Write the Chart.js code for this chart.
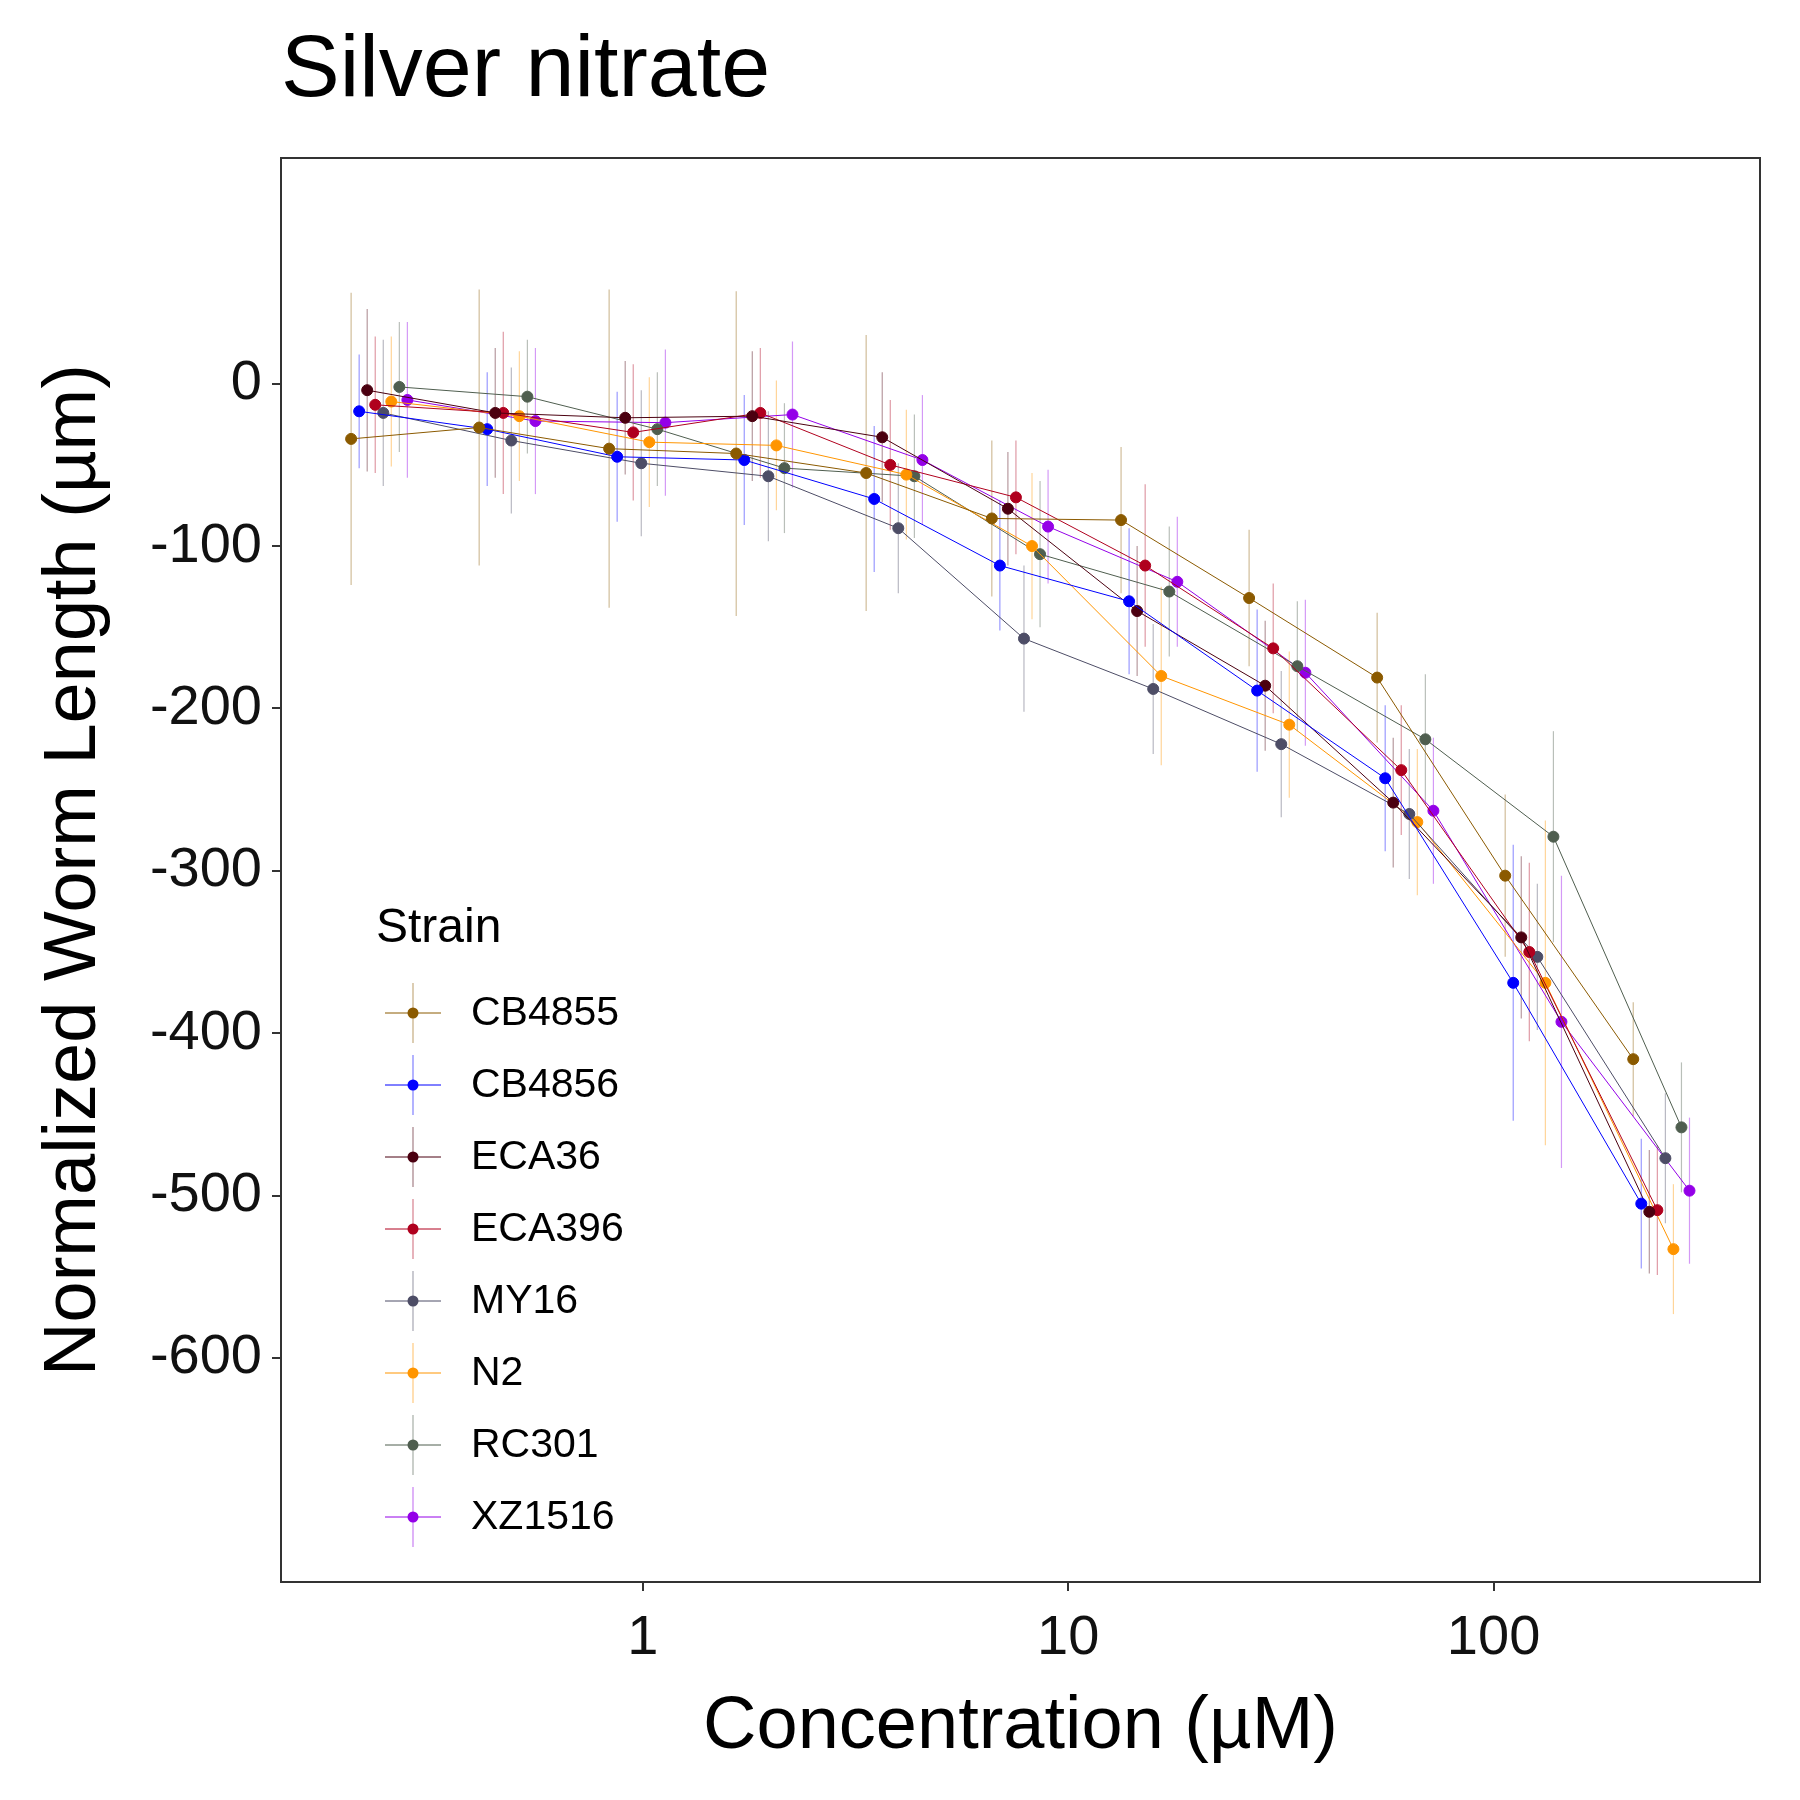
<!DOCTYPE html>
<html><head><meta charset="utf-8">
<script src="https://cdn.jsdelivr.net/npm/chart.js@4"></script>
<style>body{margin:0;background:#fff}</style></head>
<body><canvas id="c" width="1800" height="1800"></canvas>
<script>
const strains=["CB4855","CB4856","ECA36","ECA396","MY16","N2","RC301","XZ1516"];
const colors=["#8B5A00","#0000FF","#4B0010","#B0001E","#4D4D66","#FF9500","#4F5E4F","#9400E8"];
const conc=[0.24,0.48,0.97,1.93,3.9,7.7,15.5,31,62,124,248];
const vCB4855=[-34,-27,-40,-43,-55,-83,-84,-132,-181,-303,-416];
const vCB4856=[-17,-28,-45,-47,-71,-112,-134,-189,-243,-369,-505];
const vECA36=[-4,-18,-21,-20,-33,-77,-140,-186,-258,-341,-510];
const vECA396=[-13,-18,-30,-18,-50,-70,-112,-163,-238,-350,-509];
const vMY16=[-18,-35,-49,-57,-89,-157,-188,-222,-265,-353,-477];
const vN2=[-11,-20,-36,-38,-56,-100,-180,-210,-270,-369,-533];
const vRC301=[-2,-8,-28,-52,-57,-105,-128,-174,-219,-279,-458];
const vXZ1516=[-10,-23,-24,-19,-47,-88,-122,-178,-263,-393,-497];
const eCB4855=[90,85,98,100,85,48,45,42,40,50,35];
const eCB4856=[35,35,40,40,45,40,45,50,45,85,40];
const eECA36=[50,40,35,40,40,35,40,40,40,50,38];
const eECA396=[42,50,42,40,40,35,50,40,40,55,40];
const eMY16=[45,45,45,40,40,45,40,45,40,45,40];
const eN2=[40,40,40,40,40,45,55,45,45,100,40];
const eRC301=[40,35,35,40,38,45,40,40,40,65,40];
const eXZ1516=[48,45,45,45,40,35,40,45,45,90,45];
const vals=[vCB4855,vCB4856,vECA36,vECA396,vMY16,vN2,vRC301,vXZ1516];
const errs=[eCB4855,eCB4856,eECA36,eECA396,eMY16,eN2,eRC301,eXZ1516];
const FONT='Liberation Sans, Arial';

const datasets=strains.map((s,i)=>{
  const f=Math.pow(10,(i-3.5)*7/370.5);
  return {label:s,data:conc.map((c,j)=>({x:c*f,y:vals[i][j],e:errs[i][j]})),
    borderColor:colors[i],backgroundColor:colors[i],borderWidth:1,pointRadius:5.5,
    pointHoverRadius:5.5,showLine:true,fill:false,tension:0};
});

const errPlugin={id:'err',beforeDatasetsDraw(ch){
  const {ctx,scales:{x,y}}=ch;ctx.save();ctx.lineWidth=1.2;
  ch.data.datasets.forEach(ds=>{ctx.strokeStyle=ds.borderColor;ctx.globalAlpha=0.4;
    ds.data.forEach(p=>{const px=x.getPixelForValue(p.x);
      ctx.beginPath();ctx.moveTo(px,y.getPixelForValue(p.y+p.e));ctx.lineTo(px,y.getPixelForValue(p.y-p.e));ctx.stroke();});});
  ctx.restore();}};
const framePlugin={id:'frame',afterDraw(ch){
  const {ctx,chartArea:a}=ch;ctx.save();ctx.strokeStyle='#333';ctx.lineWidth=2;
  ctx.strokeRect(a.left,a.top,a.right-a.left,a.bottom-a.top);
  ctx.fillStyle='#000';ctx.textBaseline='middle';
  ctx.font='88px '+FONT;ctx.fillText('Silver nitrate',a.left,72);
  const lx=a.left+104;
  ctx.font='48px '+FONT;ctx.fillText('Strain',a.left+95,a.top+771);
  ctx.font='41px '+FONT;
  strains.forEach((s,i)=>{const yy=a.top+855+i*72;const cx=lx+28;
    ctx.strokeStyle=colors[i];ctx.globalAlpha=0.5;ctx.lineWidth=1.2;
    ctx.beginPath();ctx.moveTo(cx,yy-30);ctx.lineTo(cx,yy+30);ctx.stroke();
    ctx.globalAlpha=1;ctx.lineWidth=1;ctx.beginPath();ctx.moveTo(lx,yy);ctx.lineTo(lx+56,yy);ctx.stroke();
    ctx.fillStyle=colors[i];ctx.beginPath();ctx.arc(cx,yy,5.5,0,Math.PI*2);ctx.fill();
    ctx.fillStyle='#000';ctx.fillText(s,a.left+190,yy+1);});
  ctx.restore();}};

new Chart(document.getElementById('c'),{type:'scatter',data:{datasets},
 options:{responsive:false,animation:false,
  layout:{padding:{left:0,right:40,top:158,bottom:0}},
  plugins:{legend:{display:false},tooltip:{enabled:false},title:{display:false}},
  scales:{
   x:{type:'logarithmic',min:0.141,max:423,
     afterBuildTicks:s=>{s.ticks=[{value:1},{value:10},{value:100}];},
     afterFit:s=>{s.height=218;},
     ticks:{callback:v=>String(v),color:'#111',font:{size:56,family:FONT},maxRotation:0,padding:14},
     grid:{display:true,drawOnChartArea:false,drawTicks:true,tickLength:9,color:'#333',lineWidth:2},
     border:{display:true,color:'#333',width:2},
     title:{display:true,text:'Concentration (µM)',color:'#000',font:{size:74,family:FONT},padding:{top:0,bottom:28}}},
   y:{min:-738,max:139,
     afterBuildTicks:s=>{s.ticks=s.ticks.filter(t=>t.value<=0&&t.value>=-700);},
     afterFit:s=>{s.width=281;},
     ticks:{stepSize:100,color:'#111',font:{size:56,family:FONT},padding:10},
     grid:{display:true,drawOnChartArea:false,drawTicks:true,tickLength:9,color:'#333',lineWidth:2},
     border:{display:true,color:'#333',width:2},
     title:{display:true,text:'Normalized Worm Length (µm)',color:'#000',font:{size:74,family:FONT},padding:{top:30,bottom:0}}}
  }},plugins:[errPlugin,framePlugin]});
</script></body></html>
